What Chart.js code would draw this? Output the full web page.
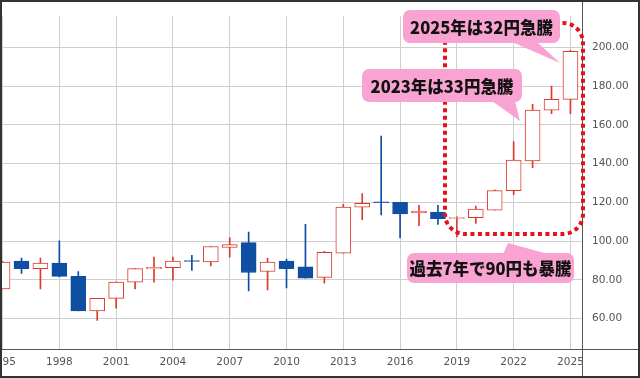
<!DOCTYPE html>
<html><head><meta charset="utf-8">
<script src="https://cdn.jsdelivr.net/npm/chart.js@4.4.1/dist/chart.umd.min.js"></script>
<style>
html,body{margin:0;padding:0;background:#fff;}
#wrap{position:relative;width:640px;height:378px;}
#frame{position:absolute;left:0;top:0;width:640px;height:378px;box-sizing:border-box;border:2px solid #333;pointer-events:none;}
canvas{display:block;}
</style></head><body>
<div id="wrap"><canvas id="c" width="640" height="378"></canvas><div id="frame"></div></div>
<script>
// ---- data ----
const years  = [1995,1996,1997,1998,1999,2000,2001,2002,2003,2004,2005,2006,2007,2008,2009,2010,2011,2012,2013,2014,2015,2016,2017,2018,2019,2020,2021,2022,2023,2024,2025];
const opens  = [75.3,89.7,85.8,88.7,81.8,63.9,70.4,78.8,85.6,86.3,89.9,89.2,96.7,99.2,84.3,89.7,86.7,81.3,93.7,117.5,120.3,120.0,114.5,115.0,111.7,112.1,116.0,126.0,141.3,167.6,173.1];
const highs  = [89.5,91.2,91.2,100.1,84.3,70.4,79.0,85.8,91.7,91.7,92.7,97.2,101.8,104.6,91.2,90.7,108.6,94.7,119.0,124.5,154.2,120.0,118.5,118.5,112.5,118.0,126.5,151.3,170.6,180.0,198.5];
const lows   = [75.3,83.3,75.3,81.5,63.9,59.0,65.4,75.3,78.8,79.8,84.8,87.2,91.7,74.3,74.8,75.8,80.8,78.3,93.7,111.1,113.5,101.6,108.0,108.6,102.1,109.1,116.0,124.0,137.9,165.7,165.7];
const closes = [89.2,85.8,88.7,81.8,63.9,70.4,78.8,85.8,86.4,89.7,89.5,97.2,98.2,83.8,89.2,85.8,80.8,94.2,117.5,119.5,119.8,114.0,115.5,111.6,112.1,116.5,126.0,141.8,167.6,173.1,197.9];
const xTickYears  = [1995,1998,2001,2004,2007,2010,2013,2016,2019,2022,2025];
const yTickValues = [60,80,100,120,140,160,180,200];
const notes = ['2025年は32円急騰','2023年は33円急騰','過去7年で90円も暴騰'];

// ---- styles ----
const RED = '#dc3b2c', BLUE = '#0e4ea3', PINK = '#f8a3d1', DOT = '#e8101a';
const up = opens.map((o,i)=>closes[i] >= o);

function rr(ctx,x,y,w,h,r){
  ctx.beginPath();
  ctx.moveTo(x+r,y); ctx.lineTo(x+w-r,y); ctx.arcTo(x+w,y,x+w,y+r,r);
  ctx.lineTo(x+w,y+h-r); ctx.arcTo(x+w,y+h,x+w-r,y+h,r);
  ctx.lineTo(x+r,y+h); ctx.arcTo(x,y+h,x,y+h-r,r);
  ctx.lineTo(x,y+r); ctx.arcTo(x,y,x+r,y,r); ctx.closePath();
}

const decor = {
  id:'decor',
  afterDraw(chart){
    const ctx = chart.ctx, a = chart.chartArea;
    ctx.save();
    // extended axis lines
    ctx.strokeStyle = '#555'; ctx.lineWidth = 1; ctx.setLineDash([]);
    ctx.beginPath();
    ctx.moveTo(0, a.bottom+0.5); ctx.lineTo(chart.width, a.bottom+0.5);
    ctx.moveTo(a.right+0.5, 0); ctx.lineTo(a.right+0.5, chart.height);
    ctx.stroke();
    // dotted rounded rectangle
    ctx.strokeStyle = DOT; ctx.lineWidth = 4; ctx.setLineDash([4,3.5]);
    rr(ctx, 445, 23, 138, 211, 20); ctx.stroke();
    ctx.setLineDash([]);
    // callouts
    ctx.fillStyle = PINK;
    const boxes = [
      {x:403,y:10,w:157,h:33, tail:[[512,42],[537,42],[560,63]]},
      {x:362,y:69,w:160,h:33, tail:[[492,101],[515,101],[520,121]]},
      {x:407,y:253,w:167,h:30, tail:[[503,254],[548,254],[508,243]]}
    ];
    boxes.forEach((b,i)=>{
      rr(ctx,b.x,b.y,b.w,b.h,7); ctx.fill();
      ctx.beginPath(); ctx.moveTo(...b.tail[0]); ctx.lineTo(...b.tail[1]); ctx.lineTo(...b.tail[2]); ctx.closePath(); ctx.fill();
    });
    ctx.fillStyle = '#111';
    ctx.font = '900 16.5px "Noto Sans CJK JP"';
    ctx.textAlign = 'center'; ctx.textBaseline = 'middle';
    boxes.forEach((b,i)=>{ ctx.fillText(notes[i], b.x+b.w/2, b.y+b.h/2+1); });
    ctx.restore();
  }
};

new Chart(document.getElementById('c'), {
  type:'bar',
  data:{datasets:[
    {label:'wick', data: years.map((y,i)=>({x:y, y:[lows[i], highs[i]]})),
     backgroundColor: up.map(u=>u?RED:BLUE), borderWidth:0, barThickness:1, grouped:false, order:2},
    {label:'body', data: years.map((y,i)=>({x:y, y:[opens[i], closes[i]]})),
     backgroundColor: up.map(u=>u?'#ffffff':BLUE), borderColor: up.map(u=>u?RED:BLUE),
     borderWidth:1, borderSkipped:false, barThickness:15, grouped:false, order:1}
  ]},
  options:{
    responsive:false, animation:false, events:[],
    layout:{padding:{left:2, top:2, right:2, bottom:2}},
    plugins:{legend:{display:false}, tooltip:{enabled:false}},
    scales:{
      x:{type:'linear', min:1994.97, max:2025.61, offset:false,
         grid:{color:'#cfcfcf', drawTicks:false, offset:false}, border:{display:false},
         ticks:{color:'#555', font:{family:'DejaVu Sans', size:10.5}, padding:7, maxRotation:0, autoSkip:false,
                callback:v=>String(v)},
         afterBuildTicks:s=>{ s.ticks = xTickYears.map(v=>({value:v})); },
         afterFit:s=>{ s.height = 27; s.paddingLeft = 0; s.paddingRight = 0; }},
      y:{position:'right', min:44.3, max:216,
         grid:{color:'#cfcfcf', drawTicks:false}, border:{display:false},
         ticks:{color:'#555', font:{family:'DejaVu Sans', size:10.5}, padding:10,
                callback:v=>Number(v).toFixed(2)},
         afterBuildTicks:s=>{ s.ticks = yTickValues.map(v=>({value:v})); },
         afterFit:s=>{ s.width = 56; }}
    }
  },
  plugins:[decor]
});
</script>
</body></html>
